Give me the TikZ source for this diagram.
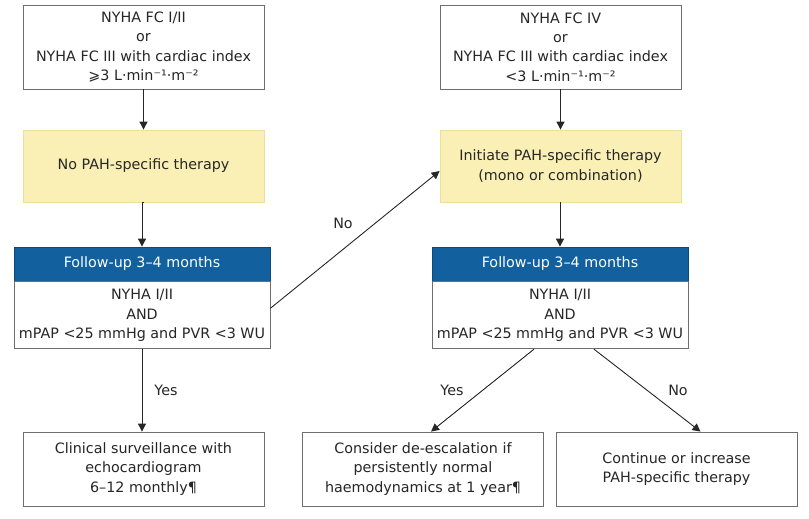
\documentclass[tikz,border=0pt]{standalone}
\usepackage{fontspec}
\setmainfont{DejaVu Sans}
\usepackage{xcolor}
\usepackage{tikz}
\usetikzlibrary{positioning,arrows.meta}
\definecolor{txtgray}{HTML}{262626}
\definecolor{boxgray}{HTML}{6E6E6E}
\definecolor{yellowfill}{HTML}{FAF0B6}
\definecolor{yellowline}{HTML}{EEDF96}
\definecolor{bluehead}{HTML}{12609E}
\definecolor{blueline}{HTML}{0B4A7E}
\tikzstyle{plainbox} = [rectangle, minimum width=241pt, minimum height=84pt, inner sep=0pt, align=center, draw=boxgray, fill=white, text=txtgray]
\tikzstyle{therapy} = [rectangle, minimum width=241pt, minimum height=72pt, inner sep=0pt, align=center, draw=yellowline, fill=yellowfill, text=txtgray]
\tikzstyle{followup} = [rectangle, minimum width=256pt, minimum height=34pt, inner sep=0pt, align=center, draw=blueline, fill=bluehead, text=white]
\tikzstyle{check} = [rectangle, minimum width=256pt, minimum height=67pt, inner sep=0pt, align=center, draw=boxgray, fill=white, text=txtgray]
\tikzstyle{outcome} = [rectangle, minimum width=241pt, minimum height=74pt, inner sep=0pt, align=center, draw=boxgray, fill=white, text=txtgray]
\tikzstyle{arrow} = [draw=txtgray, line width=0.9pt, -{Triangle[length=8pt,width=8pt]}]
\tikzstyle{answer} = [text=txtgray]

\begin{document}
\begin{tikzpicture}[x=1pt, y=-1pt, line width=0.8pt, font=\fontsize{14.3}{19.3}\selectfont]

	\useasboundingbox (0,0) rectangle (809,519);

	% left column
	\node (start1) [plainbox] at (143.5,47) {NYHA FC I/II\\or\\NYHA FC III with cardiac index\\⩾3 L·min⁻¹·m⁻²};
	\node (ther1) [therapy] at (143.5,166) {No PAH-specific therapy};
	\node (head1) [followup] at (142,264) {Follow-up 3–4 months};
	\node (cond1) [check, below=0pt of head1] {NYHA I/II\\AND\\mPAP <25 mmHg and PVR <3 WU};
	\node (surv) [outcome] at (143.5,469) {Clinical surveillance with\\echocardiogram\\6–12 monthly¶};

	% right column
	\node (start2) [plainbox] at (560.5,47) {NYHA FC IV\\or\\NYHA FC III with cardiac index\\<3 L·min⁻¹·m⁻²};
	\node (ther2) [therapy] at (560.5,166) {Initiate PAH-specific therapy\\(mono or combination)};
	\node (head2) [followup] at (560,264) {Follow-up 3–4 months};
	\node (cond2) [check, below=0pt of head2] {NYHA I/II\\AND\\mPAP <25 mmHg and PVR <3 WU};
	\node (deesc) [outcome] at (423,469) {Consider de-escalation if\\persistently normal\\haemodynamics at 1 year¶};
	\node (cont) [outcome] at (676.5,469) {Continue or increase\\PAH-specific therapy};

	\draw [arrow] (start1) -- (ther1);
	\draw [arrow] (ther1.south) -- (ther1.south -| head1.north) -- (head1.north);
	\draw [arrow] (cond1.south) -- (cond1.south |- surv.north);
	\draw [arrow] ([yshift=7pt]cond1.east) -- ([yshift=-5pt]ther2.west);

	\draw [arrow] (start2) -- (ther2);
	\draw [arrow] (ther2.south -| head2.north) -- (head2.north);
	\draw [arrow] ([xshift=-26pt]cond2.south) -- ([xshift=8pt]deesc.north);
	\draw [arrow] ([xshift=34pt]cond2.south) -- ([xshift=24pt]cont.north);

	\node (no1) [answer] at (343,223) {No};
	\node (yes1) [answer] at (166,390) {Yes};
	\node (yes2) [answer] at (452,390) {Yes};
	\node (no2) [answer] at (678,390) {No};

\end{tikzpicture}
\end{document}
